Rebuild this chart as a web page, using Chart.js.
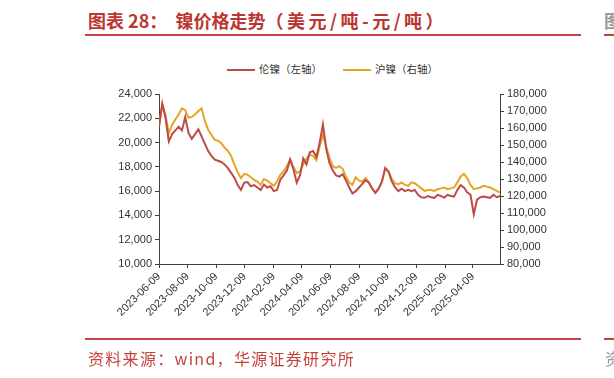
<!DOCTYPE html>
<html>
<head>
<meta charset="utf-8">
<script src="https://cdn.jsdelivr.net/npm/chart.js@4.4.1/dist/chart.umd.min.js"></script>
<style>
  html, body { margin: 0; padding: 0; background: #fff; }
  body { width: 614px; height: 378px; overflow: hidden; position: relative; font-family: "Noto Sans CJK SC", sans-serif; }
  #chartBox { position: absolute; left: 0; top: 0; width: 614px; height: 378px; }
  .titulo { position: absolute; left: 88px; top: 7px; font-size: 18px; font-weight: bold; color: #BC3530; white-space: pre; }
  .titulo .par { letter-spacing: 3.5px; }
  .regua { position: absolute; height: 2px; background: #C8423D; }
  .fonte { position: absolute; left: 88px; top: 346px; font-size: 16px; color: #C8423D; white-space: pre; letter-spacing: 1.3px; }
  .legenda { position: absolute; top: 61px; font-size: 10.5px; color: #333; white-space: pre; }
  .legenda span.l { display: inline-block; width: 28px; height: 2px; vertical-align: middle; margin-right: 4px; }
</style>
</head>
<body>
<div class="titulo">图表 28：  镍价格走势<span class="par">（美元/吨-元/吨）</span></div>
<div class="regua" style="left:85px; top:34px; width:496px;"></div>
<div class="titulo" style="left:604px; color:#999;">图</div>
<div class="regua" style="left:604px; top:34px; width:10px;"></div>

<div class="legenda" style="left:227px;"><span class="l" style="background:#BE4B48"></span>伦镍（左轴）</div>
<div class="legenda" style="left:343px;"><span class="l" style="background:#E5A526"></span>沪镍（右轴）</div>

<div id="chartBox"><canvas id="graficoNiquel" width="614" height="378"></canvas></div>

<div class="regua" style="left:85px; top:338px; width:496px;"></div>
<div class="regua" style="left:604px; top:338px; width:10px;"></div>
<div class="fonte">资料来源：wind，华源证券研究所</div>
<div class="fonte" style="left:605px; color:#999;">资</div>

<script>
// datas semanais (sexta-feira)
const dates = [
  '2023-06-09','2023-06-16','2023-06-23','2023-06-30','2023-07-07','2023-07-14','2023-07-21','2023-07-28','2023-08-04','2023-08-11',
  '2023-08-18','2023-08-25','2023-09-01','2023-09-08','2023-09-15','2023-09-22','2023-09-29','2023-10-06','2023-10-13','2023-10-20',
  '2023-10-27','2023-11-03','2023-11-10','2023-11-17','2023-11-24','2023-12-01','2023-12-08','2023-12-15','2023-12-22','2023-12-29',
  '2024-01-05','2024-01-12','2024-01-19','2024-01-26','2024-02-02','2024-02-09','2024-02-16','2024-02-23','2024-03-01','2024-03-08',
  '2024-03-15','2024-03-22','2024-03-29','2024-04-05','2024-04-12','2024-04-19','2024-04-26','2024-05-03','2024-05-10','2024-05-17',
  '2024-05-24','2024-05-31','2024-06-07','2024-06-14','2024-06-21','2024-06-28','2024-07-05','2024-07-12','2024-07-19','2024-07-26',
  '2024-08-02','2024-08-09','2024-08-16','2024-08-23','2024-08-30','2024-09-06','2024-09-13','2024-09-20','2024-09-27','2024-10-04',
  '2024-10-11','2024-10-18','2024-10-25','2024-11-01','2024-11-08','2024-11-15','2024-11-22','2024-11-29','2024-12-06','2024-12-13',
  '2024-12-20','2024-12-27','2025-01-03','2025-01-10','2025-01-17','2025-01-24','2025-01-31','2025-02-07','2025-02-14','2025-02-21',
  '2025-02-28','2025-03-07','2025-03-14','2025-03-21','2025-03-28','2025-04-04','2025-04-11','2025-04-18','2025-04-25','2025-05-02',
  '2025-05-09','2025-05-16','2025-05-23','2025-05-30','2025-06-06'
];

// 伦镍 (USD/t, eixo esquerdo)
const lmeNickel = [
  21300,23200,22000,20100,20700,21000,21300,21000,22100,20800,
  20300,20700,21100,20500,19900,19300,18900,18600,18500,18400,
  18200,17900,17500,17100,16500,16100,16700,16750,16400,16500,
  16300,16100,16550,16300,16400,16000,16100,16950,17300,17700,
  18600,17800,16700,17300,18700,18200,19200,19300,18800,20000,
  21500,19500,18300,17700,17300,17200,17400,16900,16300,15800,
  16000,16300,16600,16900,16700,16200,15850,16200,16800,17900,
  17600,16800,16300,16000,16200,16000,16100,16000,16100,15700,
  15500,15450,15600,15500,15450,15700,15600,15450,15700,15600,
  15550,16100,16500,16300,15900,15700,14100,15300,15500,15550,
  15500,15450,15700,15500,15600
];

// 沪镍 (CNY/t, eixo direito)
const shfeNickel = [
  161000,174000,167500,157000,162000,165000,168000,171500,170500,166000,
  166500,168000,170000,171500,164000,159000,156000,153000,152500,151000,
  148500,146500,143500,138500,134000,130500,133000,132500,131000,129500,
  128500,126500,130000,129000,127500,126000,128500,132500,134500,137500,
  141500,137000,133500,134500,138500,142000,144500,143500,141000,149000,
  156000,149000,142500,137500,136500,137500,136000,131500,128000,126500,
  131000,129000,128500,130500,128000,124500,122000,124500,128500,136500,
  134500,130000,127500,127000,128000,126500,126000,128000,127500,126000,
  124500,123000,123500,123500,123000,124000,124500,125000,124000,124500,
  125000,128000,131500,133000,130500,126500,124000,124500,125000,126000,
  125500,125000,124000,123000,122000
];

const tickDates = [
  '2023-06-09','2023-08-09','2023-10-09','2023-12-09','2024-02-09','2024-04-09',
  '2024-06-09','2024-08-09','2024-10-09','2024-12-09','2025-02-09','2025-04-09'
];

const inicio = Date.parse(dates[0]);
const dia = d => (Date.parse(d) - inicio) / 86400000;

const fonteEixo = { family: '"Liberation Sans", Arial, sans-serif', size: 11 };
const corEixo = '#404040';

new Chart(document.getElementById('graficoNiquel'), {
  type: 'line',
  data: {
    datasets: [
      {
        label: '伦镍（左轴）',
        data: dates.map((d, i) => ({ x: dia(d), y: lmeNickel[i] })),
        borderColor: '#BE4B48',
        borderWidth: 2,
        pointRadius: 0,
        yAxisID: 'yEsq'
      },
      {
        label: '沪镍（右轴）',
        data: dates.map((d, i) => ({ x: dia(d), y: shfeNickel[i] })),
        borderColor: '#E5A526',
        borderWidth: 2,
        pointRadius: 0,
        yAxisID: 'yDir'
      }
    ]
  },
  options: {
    responsive: false,
    animation: false,
    layout: { padding: { top: 94, left: 0, right: 0, bottom: 0 } },
    plugins: { legend: { display: false }, tooltip: { enabled: false } },
    scales: {
      x: {
        type: 'linear',
        min: 0,
        max: dia(dates[dates.length - 1]),
        afterBuildTicks: s => { s.ticks = tickDates.map(d => ({ value: dia(d) })); },
        afterFit: s => { s.height = 114; },
        grid: { drawOnChartArea: false, tickLength: 4, color: corEixo },
        border: { color: corEixo },
        ticks: {
          autoSkip: false,
          minRotation: 45,
          maxRotation: 45,
          padding: 2,
          color: '#333',
          font: fonteEixo,
          callback: (v, i) => tickDates[i]
        }
      },
      yEsq: {
        position: 'left',
        min: 10000,
        max: 24000,
        afterFit: s => { s.width = 159; },
        grid: { drawOnChartArea: false, tickLength: 4, color: corEixo },
        border: { color: corEixo },
        ticks: { stepSize: 2000, color: '#333', font: fonteEixo, padding: 3,
          callback: v => v.toLocaleString('en-US') }
      },
      yDir: {
        position: 'right',
        min: 80000,
        max: 180000,
        afterFit: s => { s.width = 114; },
        grid: { drawOnChartArea: false, tickLength: 4, color: corEixo },
        border: { color: corEixo },
        ticks: { stepSize: 10000, color: '#333', font: fonteEixo, padding: 3,
          callback: v => v.toLocaleString('en-US') }
      }
    }
  }
});
</script>
</body>
</html>
